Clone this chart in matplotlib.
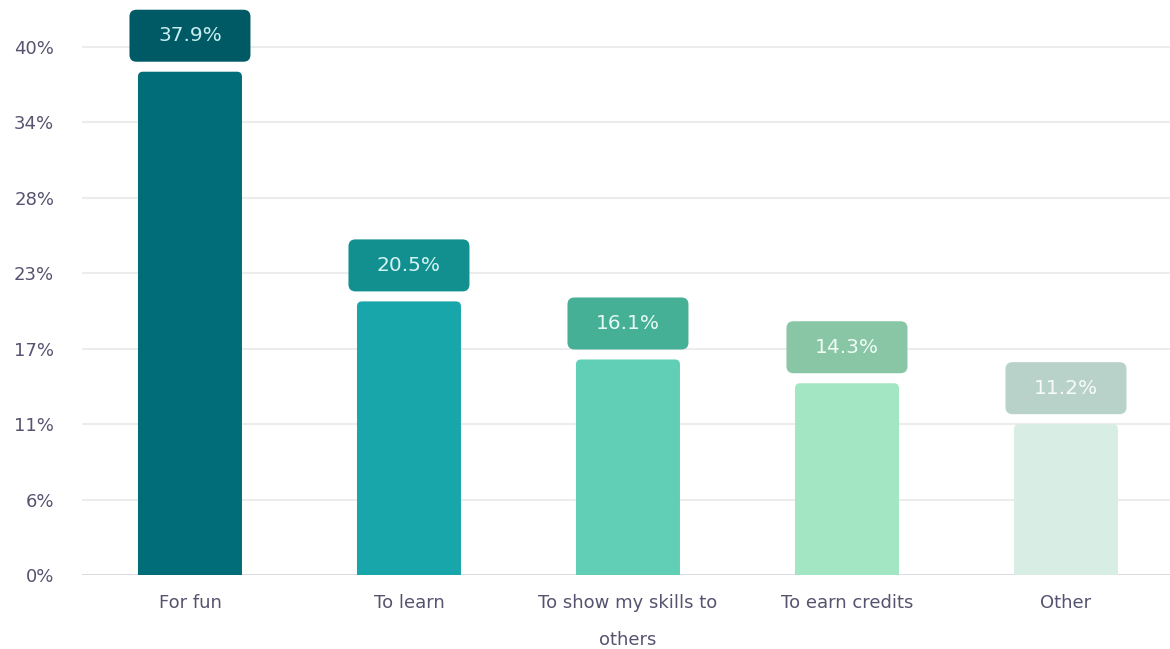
import numpy as np
import matplotlib.pyplot as plt
from matplotlib.patches import FancyBboxPatch

# Chart data
categories = ['For fun', 'To learn', 'To show my skills to\nothers', 'To earn credits', 'Other']
values = [37.9, 20.5, 16.1, 14.3, 11.2]
tick_values = [0, 40 / 7, 80 / 7, 120 / 7, 160 / 7, 200 / 7, 240 / 7, 40]
tick_labels = ['0%', '6%', '11%', '17%', '23%', '28%', '34%', '40%']

bar_colors = ['#006d78', '#19a6ab', '#60cfb5', '#a3e6c3', '#d8eee5']
box_colors = ['#005a66', '#11908f', '#46b096', '#89c6a6', '#b9d2c9']
text_colors = ['#c9eef0', '#d4f3f2', '#e6f8f3', '#f0fbf5', '#f6fbf9']

plt.rcParams['font.family'] = ['DejaVu Sans']

fig = plt.figure(figsize=(11.7, 6.49), dpi=100)
ax = fig.add_axes([82 / 1170, 1 - 575 / 649, 1 - 82 / 1170, 575 / 649])

ymax = 575 / 13.2
ax.set_xlim(-0.493, 4.475)
ax.set_ylim(0, ymax)

# pixel -> data conversion factors
px_x = 1 / 219.0
px_y = ymax / 575.0
aspect = px_y / px_x

bar_w = 104 * px_x
for i, v in enumerate(values):
    r = 5 * px_x
    top = v + 3 * px_y
    bar = FancyBboxPatch((i - bar_w / 2 + r, -2 + r * aspect), bar_w - 2 * r, top + 2 - 2 * r * aspect,
                         boxstyle=f'round,pad={r},rounding_size={r}', mutation_aspect=aspect,
                         fc=bar_colors[i], ec='none', zorder=3)
    ax.add_patch(bar)

    # value label box
    bw = 121 * px_x
    bh = 52 * px_y
    r2 = 7 * px_x
    y0 = top + 10 * px_y
    box = FancyBboxPatch((i - bw / 2 + r2, y0 + r2 * aspect), bw - 2 * r2, bh - 2 * r2 * aspect,
                         boxstyle=f'round,pad={r2},rounding_size={r2}', mutation_aspect=aspect,
                         fc=box_colors[i], ec='none', zorder=3, clip_on=False)
    ax.add_patch(box)
    ax.text(i, y0 + bh / 2, f'{v}%', ha='center', va='center', fontsize=14.5,
            color=text_colors[i], zorder=4)

ax.set_yticks(tick_values)
ax.set_yticklabels(tick_labels)
ax.set_xticks(range(len(categories)))
ax.set_xticklabels(categories, linespacing=2.35, va='top')
ax.tick_params(axis='both', length=0, labelsize=13, colors='#55536f')
ax.tick_params(axis='y', pad=20)
ax.tick_params(axis='x', pad=14)

ax.grid(axis='y', color='#ececec', linewidth=1.5, zorder=0)
ax.axhline(0, color='#d9d9e0', linewidth=2, zorder=2)
for s in ax.spines.values():
    s.set_visible(False)

fig.savefig('out.png', dpi=100)
